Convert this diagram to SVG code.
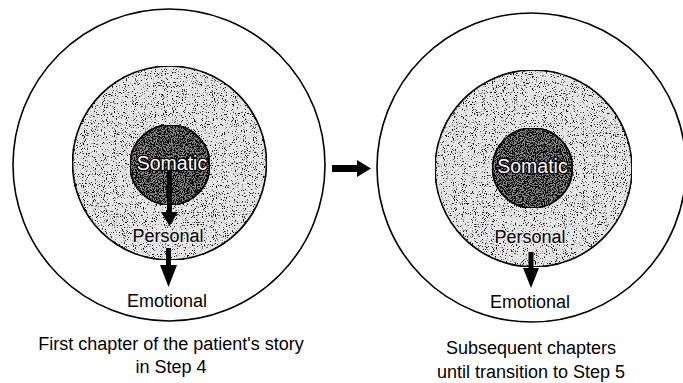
<svg xmlns="http://www.w3.org/2000/svg" width="683" height="383" viewBox="0 0 683 383">
<style>
.outer{fill:#ffffff;stroke:#000;stroke-width:1.6}
.mid{fill:#e6e6e6;stroke:#000;stroke-width:1.6;filter:url(#stipLight)}
.inner{fill:#8a8a8a;stroke:#000;stroke-width:1.6;filter:url(#stipDark)}
text{font-family:"Liberation Sans",Arial,sans-serif;font-size:18px;text-anchor:middle;fill:#000}
.som{fill:#fff;stroke:#000;stroke-width:2.4;paint-order:stroke;stroke-linejoin:round;font-size:19.5px}
.halo{stroke:#ececec;stroke-width:2.5;paint-order:stroke;stroke-linejoin:round}
.arrow{fill:#000}
</style>
<defs>
  <filter id="stipLight" x="0" y="0" width="100%" height="100%" color-interpolation-filters="sRGB">
    <feTurbulence type="fractalNoise" baseFrequency="0.9" numOctaves="2" seed="4" result="n"/>
    <feColorMatrix in="n" type="matrix" values="0 0 0 0 0  0 0 0 0 0  0 0 0 0 0  9 0 0 0 -5.4" result="dots"/>
    <feComposite in="dots" in2="SourceGraphic" operator="in" result="d"/>
    <feMerge><feMergeNode in="SourceGraphic"/><feMergeNode in="d"/></feMerge>
  </filter>
  <filter id="stipDark" x="0" y="0" width="100%" height="100%" color-interpolation-filters="sRGB">
    <feTurbulence type="fractalNoise" baseFrequency="0.9" numOctaves="2" seed="9" result="n"/>
    <feColorMatrix in="n" type="matrix" values="0 0 0 0 0  0 0 0 0 0  0 0 0 0 0  9 0 0 0 -4" result="dots"/>
    <feComposite in="dots" in2="SourceGraphic" operator="in" result="d"/>
    <feMerge><feMergeNode in="SourceGraphic"/><feMergeNode in="d"/></feMerge>
  </filter>
</defs>
<rect width="683" height="383" fill="#fff"/>
<g id="left">
  <circle class="outer" cx="169" cy="165" r="156"/>
  <circle class="mid" cx="169.5" cy="163" r="97"/>
  <circle class="inner" cx="170" cy="165" r="40"/>
  <text class="som" x="172" y="170">Somatic</text>
  <text class="halo" x="168" y="242">Personal</text>
  <text x="167" y="307">Emotional</text>
  <text x="171" y="350">First chapter of the patient's story</text>
  <text x="171" y="373">in Step 4</text>
</g>
<g id="right">
  <circle class="outer" cx="531.5" cy="167.5" r="154.5"/>
  <circle class="mid" cx="533.5" cy="168.5" r="98.5"/>
  <circle class="inner" cx="532.5" cy="168" r="40"/>
  <text class="som" x="532.5" y="173">Somatic</text>
  <text class="halo" x="530" y="243">Personal</text>
  <text x="530" y="308">Emotional</text>
  <text x="531" y="354">Subsequent chapters</text>
  <text x="531" y="378">until transition to Step 5</text>
</g>
<g id="connectors">
  <polygon class="arrow" points="167,171 172,171 172,212 178,212 169.5,226 161,212 167,212"/>
  <polygon class="arrow" points="166,248 171,248 171,265 177,265 168.5,287 160,265 166,265"/>
  <polygon class="arrow" points="528.5,252 533.5,252 533.5,268 539,268 531,288 523,268 528.5,268"/>
  <polygon class="arrow" points="332,165 357,165 357,160 371,168.5 357,177 357,172 332,172"/>
</g>
</svg>
